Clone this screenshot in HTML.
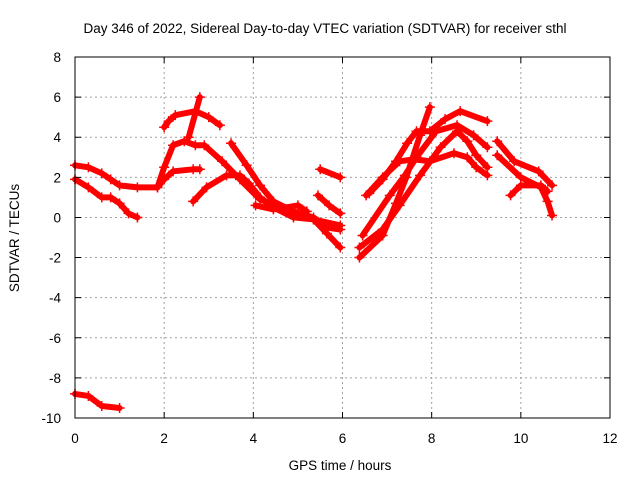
<!DOCTYPE html>
<html><head><meta charset="utf-8"><style>
body{margin:0;background:#fff}
svg{display:block;font-family:"Liberation Sans",sans-serif}
</style></head><body>
<svg id="chart" width="640" height="480" viewBox="0 0 640 480">
<rect width="640" height="480" fill="#fff"/>
<g id="grid"></g>
<g id="series"></g>
<rect x="75" y="57" width="535" height="361" fill="none" stroke="#000" stroke-width="1"/>
<g id="ticks"></g>
<text x="325" y="33" text-anchor="middle" font-size="13.5">Day 346 of 2022, Sidereal Day-to-day VTEC variation (SDTVAR) for receiver sthl</text>
<text x="340" y="470" text-anchor="middle" font-size="13.5">GPS time / hours</text>
<text x="19" y="238" text-anchor="middle" font-size="13.5" transform="rotate(-90 19 238)">SDTVAR / TECUs</text>
</svg>
<script>
const xTicks=[0,2,4,6,8,10,12];
const yTicks=[-10,-8,-6,-4,-2,0,2,4,6,8];
const trackA=[[0,2.6],[0.3,2.5],[0.6,2.2],[0.8,1.9],[1.0,1.6],[1.4,1.5],[1.85,1.5],[2.0,2.5],[2.2,3.6],[2.45,3.8],[2.7,3.6],[2.9,3.6],[3.3,2.8],[3.7,1.9],[4.15,0.9],[4.75,0.4],[5.35,-0.1],[5.95,-0.4]];
const trackB=[[0,1.9],[0.3,1.5],[0.6,1.0],[0.8,1.0],[1.0,0.7],[1.2,0.2],[1.4,0.0]];
const trackD=[[1.85,1.5],[2.0,1.9],[2.2,2.3],[2.65,2.4],[2.8,2.4]];
const trackE=[[2.0,4.5],[2.1,4.8],[2.25,5.1],[2.7,5.3],[3.0,5.0],[3.25,4.6]];
const trackE2=[[2.55,4.0],[2.8,6.0]];
const trackF=[[2.65,0.8],[2.95,1.5],[3.4,2.1],[3.7,2.1],[3.9,1.7],[4.15,1.0],[4.45,0.5],[4.9,0.0],[5.35,-0.1],[5.65,-0.8],[5.95,-1.5]];
const trackG=[[3.5,3.7],[3.85,2.6],[4.15,1.6],[4.45,0.8],[4.9,0.3],[5.35,0.0],[5.65,-0.5],[5.95,-0.6]];
const trackH=[[4.05,0.6],[4.45,0.4],[5.0,0.6],[5.2,0.3]];
const trackI=[[5.5,2.4],[5.95,2.0]];
const trackH2=[[5.45,1.1],[5.7,0.6],[5.95,0.2]];
const trackJ=[[0,-8.8],[0.3,-8.9],[0.6,-9.4],[1.0,-9.5]];
const trackK=[[6.38,-1.5],[6.9,-0.6],[7.28,0.6],[7.74,2.1],[8.2,3.5],[8.57,4.3],[8.8,3.8],[9.0,3.1],[9.25,2.5]];
const trackL=[[6.53,1.1],[6.9,2.0],[7.28,2.8],[7.6,2.9],[7.96,2.8],[8.5,3.2],[8.8,3.0],[9.0,2.5],[9.25,2.1]];
const trackM=[[6.6,1.2],[6.9,1.9],[7.2,2.8],[7.45,3.7],[7.66,4.3],[7.96,4.3],[8.3,4.9],[8.64,5.3],[9.25,4.8]];
const trackN=[[6.38,-2.0],[6.9,-0.9],[7.2,0.7],[7.43,2.0],[7.74,4.1],[7.96,5.5]];
const trackO=[[6.45,-0.9],[7.06,1.1],[7.4,2.1],[7.66,3.0],[8.1,4.3],[8.57,4.6],[8.94,4.1],[9.25,3.5]];
const trackP=[[9.47,3.8],[9.85,2.8],[10.4,2.3],[10.7,1.6]];
const trackQ=[[9.47,3.1],[10.0,2.0],[10.45,1.5],[10.6,0.8],[10.7,0.1]];
const trackR=[[9.77,1.1],[10.0,1.6],[10.45,1.6],[10.6,1.3]];
const tracks=[trackA,trackB,trackD,trackE,trackE2,trackF,trackG,trackH,trackI,trackH2,trackJ,trackK,trackL,trackM,trackN,trackO,trackP,trackQ,trackR];
const NS="http://www.w3.org/2000/svg";
const X0=75,X1=610,Y0=418,Y1=57;
function sx(v){return X0+(v-0)/(12-0)*(X1-X0);}
function sy(v){return Y0-(v+10)/(18)*(Y0-Y1);}
const grid=document.getElementById('grid'),ticks=document.getElementById('ticks'),ser=document.getElementById('series');
xTicks.forEach(t=>{
 const x=sx(t);
 if(t>0&&t<12){const l=document.createElementNS(NS,'line');
 
 
 l.setAttribute('x1',x);l.setAttribute('x2',x);l.setAttribute('y1',Y1);l.setAttribute('y2',Y0);
 l.setAttribute('stroke','#a0a0a0');l.setAttribute('stroke-dasharray','2,3');grid.appendChild(l);}
 const tk=document.createElementNS(NS,'path');
 
 
 tk.setAttribute('d',`M${x} ${Y0}v-6M${x} ${Y1}v6`);tk.setAttribute('stroke','#000');ticks.appendChild(tk);
 const tx=document.createElementNS(NS,'text');
 
 
 tx.setAttribute('x',x);tx.setAttribute('y',Y0+25);tx.setAttribute('text-anchor','middle');tx.setAttribute('font-size','13.5');
 tx.textContent=t;ticks.appendChild(tx);
});
yTicks.forEach(t=>{
 const y=sy(t);
 if(t>-10&&t<8){const l=document.createElementNS(NS,'line');
 
 
 l.setAttribute('x1',X0);l.setAttribute('x2',X1);l.setAttribute('y1',y);l.setAttribute('y2',y);
 l.setAttribute('stroke','#a0a0a0');l.setAttribute('stroke-dasharray','2,3');grid.appendChild(l);}
 const tk=document.createElementNS(NS,'path');
 
 
 tk.setAttribute('d',`M${X0} ${y}h6M${X1} ${y}h-6`);tk.setAttribute('stroke','#000');ticks.appendChild(tk);
 const tx=document.createElementNS(NS,'text');
 
 
 tx.setAttribute('x',X0-14);tx.setAttribute('y',y+5);tx.setAttribute('text-anchor','end');tx.setAttribute('font-size','13.5');
 tx.textContent=t;ticks.appendChild(tx);
});
tracks.forEach(tr=>{
 const p=document.createElementNS(NS,'polyline');
 
 
 p.setAttribute('points',tr.map(d=>sx(d[0])+','+sy(d[1])).join(' '));
 p.setAttribute('fill','none');p.setAttribute('stroke','#ff0000');p.setAttribute('stroke-width','6');
 p.setAttribute('stroke-linejoin','round');p.setAttribute('stroke-linecap','round');
 ser.appendChild(p);
 tr.forEach(d=>{
  const m=document.createElementNS(NS,'path');
  
  
  const x=sx(d[0]),y=sy(d[1]);
  m.setAttribute('d',`M${x-5} ${y}h10M${x} ${y-5}v10`);m.setAttribute('stroke','#ff0000');m.setAttribute('stroke-width','1.5');
  ser.appendChild(m);
 });
});
</script>
</body></html>
